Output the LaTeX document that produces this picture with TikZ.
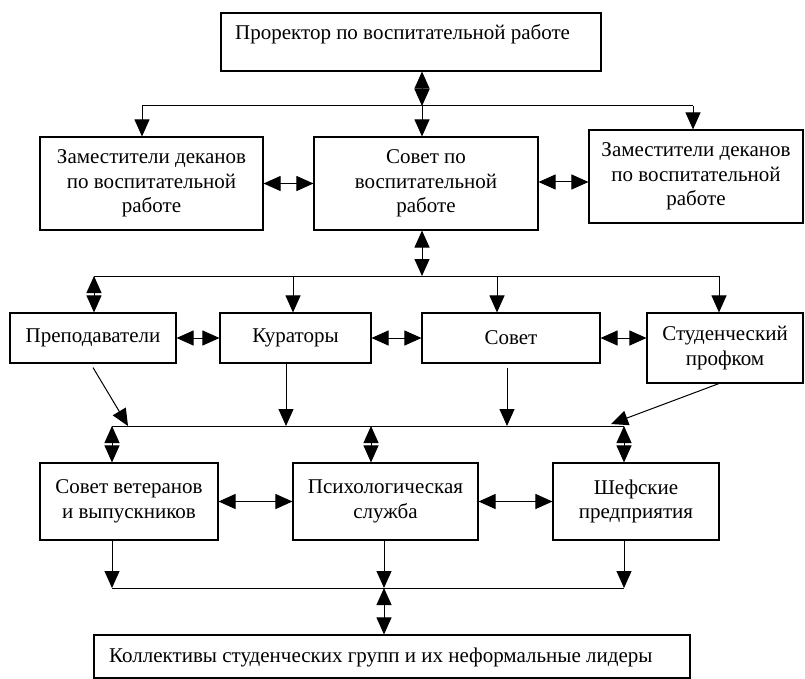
\documentclass[tikz,border=0pt]{standalone}
\usepackage{fontspec}
\setmainfont{Liberation Serif}
\usetikzlibrary{arrows.meta}
\begin{document}
\begin{tikzpicture}[x=1pt,y=-1pt,
  box/.style={draw, line width=1.1pt, inner sep=0pt, align=center,
    font=\fontsize{21}{24.5}\selectfont},
  lbl/.style={inner sep=0pt, font=\fontsize{21}{24.5}\selectfont},
  conn/.style={line width=1pt},
  tip/.style={-{Triangle[length=17pt,width=15pt]}},
  dtip/.style={{Triangle[length=17pt,width=15pt]}-{Triangle[length=17pt,width=15pt]}}
]
\useasboundingbox (0,0) rectangle (805,679);

% boxes
\node[box, minimum width=380, minimum height=58] (top) at (411,42) {};
\node[lbl, anchor=west] (toptext) at (235,34) {Проректор по воспитательной работе};

\node[box, minimum width=223, minimum height=93] (zl) at (151.5,183.5) {Заместители деканов\\по воспитательной\\работе};
\node[box, minimum width=224, minimum height=93] (sov) at (426,183.5) {Совет по\\воспитательной\\работе};
\node[box, minimum width=214, minimum height=93] (zr) at (696,176.5) {Заместители деканов\\по воспитательной\\работе};

\node[box, minimum width=166, minimum height=50] (prep) at (93,338) {Преподаватели};
\node[box, minimum width=151, minimum height=50] (kur) at (295.5,338) {Кураторы};
\node[box, minimum width=178, minimum height=50] (sovet) at (511,338) {Совет};
\node[box, minimum width=156, minimum height=70] (prof) at (725,348) {Студенческий\\профком};

\node[box, minimum width=178, minimum height=77] (vet) at (129,501.5) {Совет ветеранов\\и выпускников};
\node[box, minimum width=185, minimum height=77] (psy) at (385.5,501.5) {Психологическая\\служба};
\node[box, minimum width=166, minimum height=77] (shef) at (636,501.5) {Шефские\\предприятия};

\node[box, minimum width=596, minimum height=43] (bot) at (392,656.5) {};
\node[lbl, anchor=west] (bottext) at (109,657) {Коллективы студенческих групп и их неформальные лидеры};

% bus coordinates
\coordinate (b1) at (422,106);
\coordinate (b1l) at (142,106);
\coordinate (b1r) at (693,106);
\coordinate (b2) at (422,276);
\coordinate (b2l) at (94,276);
\coordinate (b2k) at (293,276);
\coordinate (b2s) at (497,276);
\coordinate (b2r) at (719,276);
\coordinate (b3l) at (112,426);
\coordinate (b3a) at (128,426);
\coordinate (b3k) at (286,426);
\coordinate (b3m) at (371,426);
\coordinate (b3s) at (507,426);
\coordinate (b3p) at (611,424);
\coordinate (b3r) at (624,426);
\coordinate (b4l) at (112,588);
\coordinate (b4m) at (384,588);
\coordinate (b4r) at (624,588);

% level 1
\draw[conn, dtip] (top.south -| b1) -- (b1);
\draw[conn] (b1l) -- (b1r);
\draw[conn, tip] (b1l) -- (zl.north -| b1l);
\draw[conn, tip] (b1) -- (sov.north -| b1);
\draw[conn, tip] (b1r) -- (zr.north -| b1r);
\draw[conn, dtip] (zl.east) -- (sov.west);
\draw[conn, dtip] (sov.east |- 0,182) -- (zr.west |- 0,182);

% level 2
\draw[conn, dtip] (sov.south -| b2) -- (b2);
\draw[conn] (b2l) -- (b2r);
\draw[conn, dtip] (b2l) -- (prep.north -| b2l);
\draw[conn, tip] (b2k) -- (kur.north -| b2k);
\draw[conn, tip] (b2s) -- (sovet.north -| b2s);
\draw[conn, tip] (b2r) -- (prof.north -| b2r);
\draw[conn, dtip] (prep.east) -- (kur.west);
\draw[conn, dtip] (kur.east) -- (sovet.west);
\draw[conn, dtip] (sovet.east) -- (sovet.east -| prof.west);

% level 3
\draw[conn] (b3l) -- (b3r);
\draw[conn, tip] ([yshift=-4pt]prep.south) -- (b3a);
\draw[conn, tip] (kur.south -| b3k) -- (b3k);
\draw[conn, tip] ([yshift=-4pt]sovet.south -| b3s) -- (b3s);
\draw[conn, tip] (prof.south -| b2r) -- (b3p);
\draw[conn, dtip] (b3l) -- (vet.north -| b3l);
\draw[conn, dtip] (b3m) -- (psy.north -| b3m);
\draw[conn, dtip] (b3r) -- (shef.north -| b3r);
\draw[conn, dtip] (vet.east) -- (psy.west);
\draw[conn, dtip] (psy.east) -- (shef.west);

% level 4
\draw[conn, tip] (vet.south -| b4l) -- (b4l);
\draw[conn, tip] (psy.south -| b4m) -- (b4m);
\draw[conn, tip] (shef.south -| b4r) -- (b4r);
\draw[conn] (b4l) -- (b4r);
\draw[conn, dtip] (b4m) -- (bot.north -| b4m);
\end{tikzpicture}
\end{document}
